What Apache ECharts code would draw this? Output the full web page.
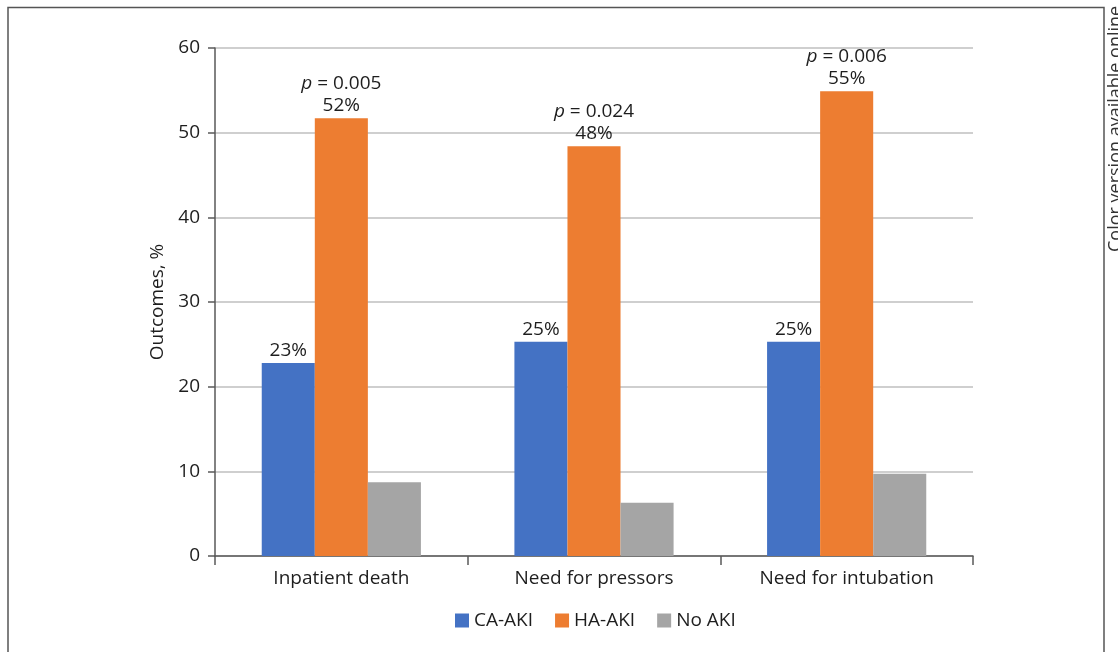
<!DOCTYPE html>
<html><head><meta charset="utf-8">
<script src="https://cdn.jsdelivr.net/npm/echarts@6/dist/echarts.min.js"></script>
<style>html,body{margin:0;padding:0;background:#fff}#c{width:1118px;height:652px}</style>
</head><body><div id="c"></div>
<script>
const categories = ['Inpatient death', 'Need for pressors', 'Need for intubation'];
const caAki = [22.8, 25.3, 25.3];
const haAki = [51.7, 48.4, 54.9];
const noAki = [8.7, 6.3, 9.7];
const caLabels = ['23%', '25%', '25%'];
const haLabels = ['52%', '48%', '55%'];
const pValues = ['0.005', '0.024', '0.006'];
const seriesNames = ['CA-AKI', 'HA-AKI', 'No AKI'];
const yTicks = [0, 10, 20, 30, 40, 50, 60];

const font = '"Open Sans", "Noto Sans", sans-serif';
const fs = 19;
const chart = echarts.init(document.getElementById('c'));
chart.setOption({
  animation: false,
  textStyle: { fontFamily: font },
  grid: { left: 215, right: 145, top: 48, bottom: 96 },
  legend: {
    bottom: 17, left: 450, itemWidth: 14, itemHeight: 14, itemGap: 22,
    icon: 'rect',
    textStyle: { fontSize: fs, color: '#1e1e1e', fontFamily: font },
    data: seriesNames
  },
  xAxis: {
    type: 'category', data: categories,
    axisLine: { lineStyle: { color: '#595959', width: 1.5 } },
    axisTick: { show: true, length: 9, lineStyle: { color: '#595959', width: 1.5 } },
    axisLabel: { fontSize: fs, color: '#1e1e1e', margin: 13, fontFamily: font }
  },
  yAxis: {
    type: 'value', min: yTicks[0], max: yTicks[yTicks.length - 1], interval: 10,
    name: 'Outcomes, %', nameLocation: 'middle', nameGap: 48, nameRotate: 90,
    nameTextStyle: { fontSize: fs, color: '#1e1e1e', fontFamily: font },
    axisLine: { show: true, lineStyle: { color: '#595959', width: 1.5 } },
    axisTick: { show: true, length: 7, lineStyle: { color: '#595959', width: 1.5 } },
    axisLabel: { fontSize: fs, color: '#1e1e1e', margin: 15, fontFamily: font },
    splitLine: { lineStyle: { color: '#bfbfbf', width: 1.5 } }
  },
  series: [
    {
      name: seriesNames[0], type: 'bar', data: caAki, barGap: '0%', barCategoryGap: '37%',
      itemStyle: { color: '#4472c4' },
      label: { show: true, position: 'top', distance: 3, fontSize: fs, color: '#1e1e1e', fontFamily: font,
        formatter: p => caLabels[p.dataIndex] }
    },
    {
      name: seriesNames[1], type: 'bar', data: haAki, barGap: '0%', barCategoryGap: '37%',
      itemStyle: { color: '#ed7d31' },
      label: { show: true, position: 'top', distance: 2, fontSize: fs, color: '#1e1e1e', fontFamily: font,
        lineHeight: 22,
        formatter: p => '{i|p} = ' + pValues[p.dataIndex] + '\n' + haLabels[p.dataIndex],
        rich: { i: { fontStyle: 'italic', fontSize: fs, color: '#1e1e1e', fontFamily: font, lineHeight: 22 } } }
    },
    {
      name: seriesNames[2], type: 'bar', data: noAki, barGap: '0%', barCategoryGap: '37%',
      itemStyle: { color: '#a5a5a5' }
    }
  ],
  graphic: [
    { type: 'polyline', silent: true, shape: { points: [[8, 652], [8, 7.5], [1104, 7.5], [1104, 652]] },
      style: { stroke: '#555', lineWidth: 1.5, fill: null } },
    { type: 'text', x: 1116, y: 252, rotation: Math.PI / 2,
      style: { text: 'Color version available online', fontSize: 18, fill: '#333', fontFamily: font,
        textAlign: 'left', textVerticalAlign: 'middle' } }
  ]
});
</script></body></html>
